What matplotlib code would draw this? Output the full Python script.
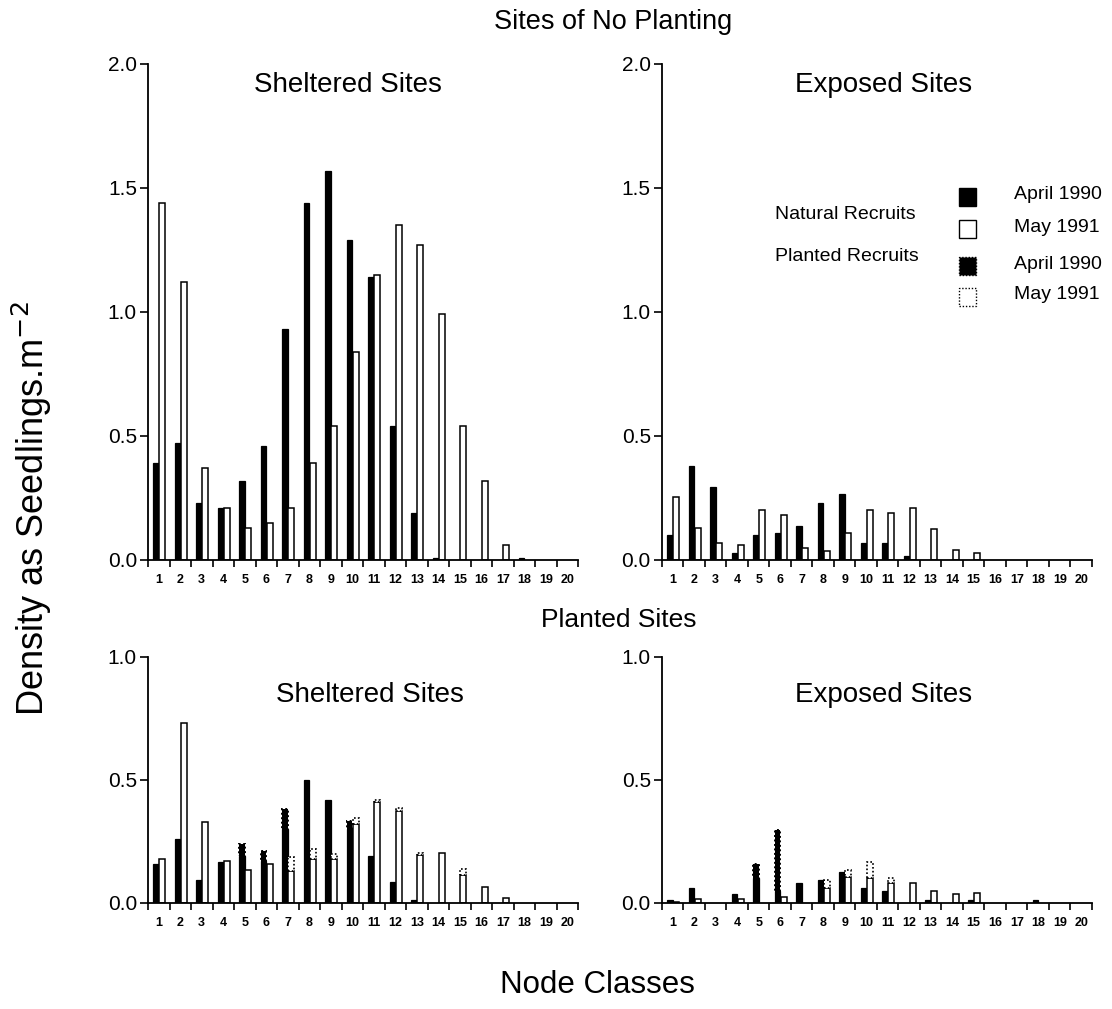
import numpy as np
import matplotlib.pyplot as plt
from matplotlib.patches import Rectangle

plt.rcParams['font.family'] = ['Liberation Sans', 'DejaVu Sans']

nodes = np.arange(1, 21)

# sites of no planting, natural recruits only
shelt_apr90 = [0.39, 0.47, 0.23, 0.21, 0.32, 0.46, 0.93, 1.44, 1.57, 1.29,
               1.14, 0.54, 0.19, 0.01, 0, 0, 0, 0.01, 0, 0]
shelt_may91 = [1.44, 1.12, 0.37, 0.21, 0.13, 0.15, 0.21, 0.39, 0.54, 0.84,
               1.15, 1.35, 1.27, 0.99, 0.54, 0.32, 0.06, 0, 0, 0]
expo_apr90 = [0.10, 0.38, 0.295, 0.027, 0.10, 0.11, 0.137, 0.23, 0.265, 0.07,
              0.07, 0.016, 0, 0, 0, 0, 0, 0, 0, 0]
expo_may91 = [0.255, 0.13, 0.07, 0.06, 0.20, 0.18, 0.047, 0.036, 0.11, 0.20,
              0.19, 0.21, 0.125, 0.04, 0.03, 0, 0, 0, 0, 0]

# planted sites: natural recruits + planted recruits on top
pl_shelt_nat_apr90 = [0.16, 0.26, 0.095, 0.165, 0.19, 0.17, 0.30, 0.50, 0.42, 0.30,
                      0.19, 0.085, 0.01, 0, 0, 0, 0, 0, 0, 0]
pl_shelt_pla_apr90 = [0, 0, 0, 0, 0.05, 0.04, 0.08, 0, 0, 0.035,
                      0, 0, 0, 0, 0, 0, 0, 0, 0, 0]
pl_shelt_nat_may91 = [0.18, 0.73, 0.33, 0.17, 0.135, 0.16, 0.13, 0.18, 0.18, 0.32,
                      0.41, 0.375, 0.195, 0.205, 0.115, 0.065, 0.02, 0, 0, 0]
pl_shelt_pla_may91 = [0, 0, 0, 0, 0, 0, 0.055, 0.04, 0.02, 0.025,
                      0.01, 0.01, 0.01, 0, 0.025, 0, 0, 0, 0, 0]

pl_expo_nat_apr90 = [0.01, 0.06, 0, 0.038, 0.10, 0.05, 0.083, 0.095, 0.125, 0.06,
                     0.048, 0, 0.012, 0, 0.012, 0, 0, 0.01, 0, 0]
pl_expo_pla_apr90 = [0, 0, 0, 0, 0.057, 0.247, 0, 0, 0, 0,
                     0, 0, 0, 0, 0, 0, 0, 0, 0, 0]
pl_expo_nat_may91 = [0.005, 0.015, 0, 0.018, 0, 0.024, 0, 0.06, 0.105, 0.10,
                     0.08, 0.08, 0.048, 0.038, 0.04, 0, 0, 0, 0, 0]
pl_expo_pla_may91 = [0, 0, 0, 0, 0, 0, 0, 0.035, 0.03, 0.065,
                     0.022, 0, 0, 0, 0, 0, 0, 0, 0, 0]

DOT = (0, (1, 1.3))


def bars(ax, vals, offs, width, bottom=None, face='black', ls='-', lw=0.9):
    vals = np.asarray(vals, dtype=float)
    m = vals > 0
    if not m.any():
        return
    b = 0 if bottom is None else np.asarray(bottom, dtype=float)[m]
    ax.bar(nodes[m] + offs, vals[m], width=width, bottom=b, color=face,
           edgecolor='black', linewidth=lw, linestyle=ls)


def panel(ax, title, ymax, tx, ty, apr, may, apr_pl=None, may_pl=None):
    bars(ax, apr, -0.125, 0.25)
    bars(ax, may, 0.16, 0.27, face='white', lw=1.1)
    if apr_pl is not None:
        bars(ax, apr_pl, -0.125, 0.25, bottom=apr, ls=DOT, lw=1.4)
        bars(ax, may_pl, 0.16, 0.27, bottom=may, face='white', ls=DOT, lw=1.2)

    ax.set_xlim(0.5, 20.5)
    ax.set_ylim(0, ymax)
    for s in ['top', 'right']:
        ax.spines[s].set_visible(False)
    for s in ['left', 'bottom']:
        ax.spines[s].set_linewidth(1.3)
    ax.set_yticks(np.arange(0, ymax + 0.01, 0.5))
    ax.set_yticklabels(['%.1f' % v for v in np.arange(0, ymax + 0.01, 0.5)])
    ax.tick_params(axis='y', direction='out', length=6, width=1.2,
                   labelsize=15, pad=2)
    ax.set_xticks(np.arange(0.5, 21, 1))
    ax.set_xticklabels([])
    ax.tick_params(axis='x', which='major', direction='out', length=5, width=1.2)
    ax.set_xticks(nodes, minor=True)
    ax.set_xticklabels([str(n) for n in nodes], minor=True,
                       fontsize=9, fontweight='bold')
    ax.tick_params(axis='x', which='minor', length=0, pad=10)
    ax.text(tx, ty, title, transform=ax.transAxes, ha='center', va='center',
            fontsize=20)


fig = plt.figure(figsize=(11.12, 10.09), dpi=100)

ax1 = fig.add_axes([0.1331, 0.445, 0.3867, 0.4916])
ax2 = fig.add_axes([0.5953, 0.445, 0.3867, 0.4916])
ax3 = fig.add_axes([0.1331, 0.1051, 0.3867, 0.2438])
ax4 = fig.add_axes([0.5953, 0.1051, 0.3867, 0.2438])

panel(ax1, 'Sheltered Sites', 2.0, 0.465, 0.958, shelt_apr90, shelt_may91)
panel(ax2, 'Exposed Sites', 2.0, 0.515, 0.958, expo_apr90, expo_may91)
panel(ax3, 'Sheltered Sites', 1.0, 0.515, 0.845,
      pl_shelt_nat_apr90, pl_shelt_nat_may91, pl_shelt_pla_apr90, pl_shelt_pla_may91)
panel(ax4, 'Exposed Sites', 1.0, 0.515, 0.845,
      pl_expo_nat_apr90, pl_expo_nat_may91, pl_expo_pla_apr90, pl_expo_pla_may91)

fig.text(0.551, 0.978, 'Sites of No Planting', ha='center', va='center', fontsize=19.5)
fig.text(0.556, 0.3855, 'Planted Sites', ha='center', va='center', fontsize=19)
fig.text(0.029, 0.496, 'Density as Seedlings.m$^{-2}$', rotation=90,
         ha='center', va='center', fontsize=26)
fig.text(0.537, 0.024, 'Node Classes', ha='center', va='center', fontsize=22.5)

# legend, drawn by hand in figure coordinates
leg_rows = [(0.805, 'black', '-', 'April 1990'),
            (0.773, 'white', '-', 'May 1991'),
            (0.736, 'black', DOT, 'April 1990'),
            (0.706, 'white', DOT, 'May 1991')]
for yc, face, ls, lab in leg_rows:
    fig.patches.append(Rectangle((0.862, yc - 0.009), 0.016, 0.018,
                                 transform=fig.transFigure, facecolor=face,
                                 edgecolor='black', linewidth=1.0, linestyle=ls))
    fig.text(0.912, yc + 0.002, lab, ha='left', va='center', fontsize=14)
fig.text(0.823, 0.787, 'Natural Recruits', ha='right', va='center', fontsize=14)
fig.text(0.826, 0.746, 'Planted Recruits', ha='right', va='center', fontsize=14)

fig.savefig('out.png', dpi=100)
